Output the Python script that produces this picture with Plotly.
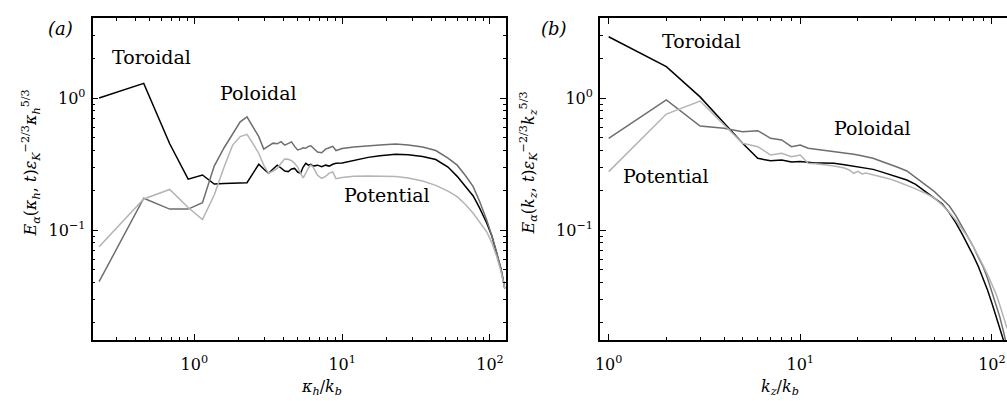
import math
import plotly.graph_objects as go

# ---------------- data: panel (a) ----------------
kh = [0.227, 0.455, 0.682, 0.909, 1.136, 1.364, 1.591, 1.818, 2.045, 2.273,
      2.50, 2.73, 2.95, 3.18, 3.41, 3.64, 3.86, 4.09, 4.32, 4.55, 4.77, 5.00,
      5.23, 5.45, 5.68, 5.91, 6.14, 6.36, 6.82, 7.27, 7.73, 8.18, 8.64, 9.09,
      10, 12, 15, 18, 23, 28, 35, 43, 52, 60, 68, 77, 85, 95, 103, 111, 119, 126]

tor_a = [1.0, 1.29, 0.45, 0.243, 0.261, 0.223, 0.225, 0.226, 0.227, 0.228,
         0.27, 0.315, 0.29, 0.269, 0.29, 0.31, 0.295, 0.28, 0.277, 0.29, 0.293, 0.275,
         0.269, 0.30, 0.32, 0.31, 0.315, 0.305, 0.31, 0.302, 0.31, 0.305, 0.315, 0.32,
         0.322, 0.338, 0.355, 0.365, 0.375, 0.372, 0.36, 0.342, 0.30, 0.255, 0.215, 0.181,
         0.147, 0.113, 0.09, 0.067, 0.05, 0.036]

pol_a = [0.0406, 0.174, 0.144, 0.144, 0.161, 0.305, 0.42, 0.53, 0.66, 0.72,
         0.60, 0.51, 0.41, 0.43, 0.455, 0.45, 0.467, 0.44, 0.455, 0.465, 0.43, 0.404,
         0.41, 0.42, 0.416, 0.43, 0.435, 0.42, 0.39, 0.385, 0.41, 0.42, 0.43, 0.40,
         0.415, 0.425, 0.435, 0.44, 0.448, 0.44, 0.425, 0.40, 0.35, 0.31, 0.26, 0.213,
         0.165, 0.119, 0.09, 0.068, 0.05, 0.036]

pot_a = [0.0748, 0.172, 0.203, 0.148, 0.12, 0.184, 0.30, 0.44, 0.51, 0.53,
         0.45, 0.38, 0.31, 0.269, 0.28, 0.293, 0.32, 0.345, 0.343, 0.335, 0.32, 0.30,
         0.269, 0.248, 0.27, 0.295, 0.31, 0.30, 0.26, 0.246, 0.255, 0.27, 0.275, 0.245,
         0.25, 0.255, 0.257, 0.256, 0.254, 0.248, 0.235, 0.218, 0.197, 0.179, 0.157, 0.134,
         0.115, 0.097, 0.08, 0.063, 0.048, 0.036]

# ---------------- data: panel (b) ----------------
kz = [1, 2, 3, 4, 5, 6, 7, 8, 9, 10, 11, 12, 13, 14, 15, 17, 18, 19, 20, 21, 22,
      24, 26, 29, 32, 36, 40, 45, 50, 55, 60, 65, 70, 75, 80, 85, 90, 95, 100,
      105, 110, 115, 120]

tor_b = [2.91, 1.73, 1.02, 0.643, 0.454, 0.349, 0.335, 0.339, 0.328, 0.33, 0.325,
         0.322, 0.322, 0.32, 0.32, 0.312, 0.308, 0.305, 0.302, 0.30, 0.296,
         0.288, 0.278, 0.265, 0.254, 0.239, 0.222, 0.196, 0.176, 0.158, 0.135,
         0.113, 0.093, 0.077, 0.064, 0.053, 0.043, 0.035, 0.028, 0.022, 0.0178,
         0.0145, 0.012]

pol_b = [0.495, 0.966, 0.614, 0.589, 0.556, 0.566, 0.495, 0.481, 0.428, 0.44, 0.416,
         0.41, 0.404, 0.395, 0.39, 0.382, 0.378, 0.375, 0.37, 0.365, 0.36,
         0.35, 0.335, 0.318, 0.30, 0.28, 0.25, 0.222, 0.196, 0.172, 0.152,
         0.128, 0.106, 0.09, 0.075, 0.062, 0.0527, 0.043, 0.034, 0.0278, 0.022,
         0.017, 0.013]

pot_b = [0.277, 0.756, 0.949, 0.624, 0.454, 0.428, 0.37, 0.381, 0.359, 0.37, 0.32,
         0.318, 0.315, 0.31, 0.305, 0.295, 0.285, 0.269, 0.278, 0.266, 0.27,
         0.262, 0.254, 0.245, 0.233, 0.219, 0.205, 0.19, 0.175, 0.155, 0.136,
         0.118, 0.102, 0.088, 0.0748, 0.064, 0.054, 0.046, 0.039, 0.033, 0.027,
         0.022, 0.018]

series_names = ["Toroidal", "Poloidal", "Potential"]
series_colors = ["#000000", "#6e6e6e", "#b4b4b4"]

x_tickvals = [1, 10, 100]
x_ticktext = ["10<sup>0</sup>", "10<sup>1</sup>", "10<sup>2</sup>"]
y_tickvals = [0.1, 1]
y_ticktext = ["10<sup>−1</sup>", "10<sup>0</sup>"]

FONT = "DejaVu Serif"
W, H = 1007, 401

fig = go.Figure()

for name, col, ya, yb in zip(series_names, series_colors,
                              [tor_a, pol_a, pot_a], [tor_b, pol_b, pot_b]):
    fig.add_trace(go.Scatter(x=kh, y=ya, mode="lines", name=name,
                             line=dict(color=col, width=1.5),
                             xaxis="x", yaxis="y", showlegend=False))
    fig.add_trace(go.Scatter(x=kz, y=yb, mode="lines", name=name,
                             line=dict(color=col, width=1.5),
                             xaxis="x2", yaxis="y2", showlegend=False))

def px_x(p):
    return p / W

def px_y(p):
    return 1 - p / H

minor_vals = [m * 10.0 ** e for e in range(-2, 3) for m in range(2, 10)]

common_axis = dict(type="log", showgrid=False, zeroline=False, showline=True,
                   linecolor="black", linewidth=1.8, ticks="inside", ticklen=6,
                   tickwidth=1, tickcolor="black",
                   tickfont=dict(family=FONT, size=16, color="black"),
                   minor=dict(tickmode="array", tickvals=minor_vals,
                              ticks="inside", ticklen=3, tickwidth=1,
                              tickcolor="black", showgrid=False))

yr = [-1.833, 0.606]

fig.update_layout(
    width=W, height=H,
    margin=dict(l=0, r=0, t=0, b=0),
    paper_bgcolor="white", plot_bgcolor="white",
    xaxis=dict(common_axis, domain=[px_x(88), px_x(503)], range=[-0.688, 2.105],
               tickmode="array", tickvals=x_tickvals, ticktext=x_ticktext,
               mirror="ticks", anchor="y", ticklabelstandoff=9),
    yaxis=dict(common_axis, domain=[px_y(340), px_y(18)], range=yr,
               tickmode="array", tickvals=y_tickvals, ticktext=y_ticktext,
               mirror="ticks", anchor="x", ticklabelstandoff=2),
    xaxis2=dict(common_axis, domain=[px_x(598), 1.0], range=[-0.045, 2.079],
                tickmode="array", tickvals=x_tickvals, ticktext=x_ticktext,
                mirror="ticks", anchor="y2", ticklabelstandoff=9),
    yaxis2=dict(common_axis, domain=[px_y(340), px_y(18)], range=yr,
                tickmode="array", tickvals=y_tickvals, ticktext=y_ticktext,
                mirror=False, anchor="x2", ticklabelstandoff=2),
)

ann_font = dict(family=FONT, size=19, color="black")
labels = [
    ("x", "y", 0.513, 2.04, "Toroidal"),
    ("x", "y", 2.7, 1.09, "Poloidal"),
    ("x", "y", 20, 0.184, "Potential"),
    ("x2", "y2", 3.05, 2.7, "Toroidal"),
    ("x2", "y2", 23.8, 0.593, "Poloidal"),
    ("x2", "y2", 2.0, 0.256, "Potential"),
]
for xr, yr_, xv, yv, txt in labels:
    fig.add_annotation(x=math.log10(xv), y=math.log10(yv), xref=xr, yref=yr_,
                       text=txt, showarrow=False, font=ann_font,
                       xanchor="center", yanchor="middle")

# panel letters
fig.add_annotation(x=px_x(41), y=px_y(16), xref="paper", yref="paper",
                   text="<i>(a)</i>", showarrow=False,
                   font=dict(family=FONT, size=18, color="black"))
fig.add_annotation(x=px_x(552), y=px_y(16), xref="paper", yref="paper",
                   text="<i>(b)</i>", showarrow=False,
                   font=dict(family=FONT, size=18, color="black"))

# axis titles
fig.add_annotation(x=px_x(295), y=px_y(375), xref="paper", yref="paper",
                   yanchor="top",
                   text="<i>κ<sub>h</sub></i>/<i>k<sub>b</sub></i>", showarrow=False,
                   font=dict(family=FONT, size=16, color="black"))
fig.add_annotation(x=px_x(800), y=px_y(375), xref="paper", yref="paper",
                   yanchor="top",
                   text="<i>k<sub>z</sub></i>/<i>k<sub>b</sub></i>", showarrow=False,
                   font=dict(family=FONT, size=16, color="black"))
fig.add_annotation(x=px_x(12), y=px_y(163), xref="paper", yref="paper",
                   text="<i>E<sub>α</sub></i>(<i>κ<sub>h</sub></i>, <i>t</i>)<i>ε<sub>K</sub></i><sup>−2/3</sup><i>κ<sub>h</sub></i><sup>5/3</sup>",
                   textangle=-90, showarrow=False,
                   font=dict(family=FONT, size=16, color="black"))
fig.add_annotation(x=px_x(526), y=px_y(163), xref="paper", yref="paper",
                   text="<i>E<sub>α</sub></i>(<i>k<sub>z</sub></i>, <i>t</i>)<i>ε<sub>K</sub></i><sup>−2/3</sup><i>k<sub>z</sub></i><sup>5/3</sup>",
                   textangle=-90, showarrow=False,
                   font=dict(family=FONT, size=16, color="black"))

fig.write_html("out.html")
